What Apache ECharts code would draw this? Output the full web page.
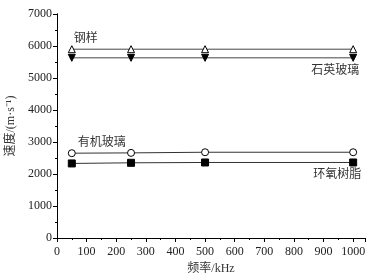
<!DOCTYPE html>
<html>
<head>
<meta charset="utf-8">
<script src="https://cdn.jsdelivr.net/npm/echarts@6/dist/echarts.min.js"></script>
<style>
  html, body { margin: 0; padding: 0; background: #fff; }
  #main { width: 377px; height: 278px; }
</style>
</head>
<body>
<div id="main"></div>
<script>
// frequencies (kHz)
const freq = [50, 250, 500, 1000];
// wave speeds (m/s)
const steel = [5900, 5900, 5900, 5900];
const quartz = [5630, 5630, 5630, 5630];
const pmma = [2650, 2660, 2680, 2680];
const epoxy = [2330, 2350, 2360, 2360];
const names = ["钢样", "石英玻璃", "有机玻璃", "环氧树脂"];

const font = "Liberation Serif";
const cjk = "Noto Sans CJK SC";
const mixed = "'Liberation Serif', 'Noto Sans CJK SC'";

function pts(vals, name, labelIdx, label) {
  return vals.map((v, i) => {
    const d = { value: [freq[i], v] };
    if (i === labelIdx) {
      d.label = Object.assign({
        show: true, formatter: name, fontFamily: cjk, fontSize: 12, color: "#333"
      }, label);
    }
    return d;
  });
}

let myChart = echarts.init(document.getElementById("main"));
const axisLine = { show: true, lineStyle: { color: "#000", width: 1 } };
const tickLbl = { fontFamily: font, fontSize: 12, color: "#222", formatter: v => String(v) };
let option = {
  animation: false,
  backgroundColor: "#fff",
  grid: { left: 57, right: 12, top: 14, bottom: 40, containLabel: false, outerBoundsMode: "none" },
  xAxis: [
    {
      type: "value", min: 0, max: 1040, interval: 100,
      name: "频率/kHz", nameLocation: "middle", nameGap: 25,
      nameTextStyle: { fontFamily: mixed, fontSize: 12, color: "#333" },
      axisLine: axisLine,
      axisTick: { inside: false, length: 4, lineStyle: { color: "#000" } },
      minorTick: { show: true, splitNumber: 2, length: 2, lineStyle: { color: "#000" } },
      axisLabel: Object.assign({ margin: 8, showMaxLabel: false }, tickLbl),
      splitLine: { show: false }
    },
    {
      type: "value", position: "top", min: 0, max: 1040, interval: 100,
      axisLine: axisLine,
      axisTick: { inside: true, length: 4, lineStyle: { color: "#000" } },
      minorTick: { show: true, splitNumber: 2, length: 2, lineStyle: { color: "#000" } },
      axisLabel: { show: false },
      splitLine: { show: false }
    }
  ],
  yAxis: [
    {
      type: "value", min: 0, max: 7000, interval: 1000,
      name: "速度/(m·s⁻¹)", nameLocation: "middle", nameGap: 33,
      nameTextStyle: { fontFamily: mixed, fontSize: 12, color: "#333" },
      axisLine: axisLine,
      axisTick: { inside: false, length: 4, lineStyle: { color: "#000" } },
      minorTick: { show: true, splitNumber: 2, length: 2, lineStyle: { color: "#000" } },
      axisLabel: Object.assign({ margin: 5 }, tickLbl),
      splitLine: { show: false }
    },
    {
      type: "value", position: "right", min: 0, max: 7000, interval: 1000,
      axisLine: axisLine,
      axisTick: { inside: true, length: 4, lineStyle: { color: "#000" } },
      minorTick: { show: true, splitNumber: 2, length: 2, lineStyle: { color: "#000" } },
      axisLabel: { show: false },
      splitLine: { show: false }
    }
  ],
  series: [
    {
      name: names[0], type: "line", symbol: "triangle", symbolSize: 7,
      lineStyle: { color: "#444", width: 1 },
      itemStyle: { color: "#fff", borderColor: "#000", borderWidth: 1 },
      data: pts(steel, names[0], 0, { position: "top", offset: [14, 3] })
    },
    {
      name: names[1], type: "line", symbol: "triangle", symbolRotate: 180, symbolSize: 7,
      lineStyle: { color: "#444", width: 1 },
      itemStyle: { color: "#000", borderColor: "#000" },
      data: pts(quartz, names[1], 3, { position: "bottom", offset: [-18, -3] })
    },
    {
      name: names[2], type: "line", symbol: "circle", symbolSize: 7,
      lineStyle: { color: "#333", width: 1 },
      itemStyle: { color: "#fff", borderColor: "#000", borderWidth: 1 },
      data: pts(pmma, names[2], 0, { position: "top", offset: [30, 3] })
    },
    {
      name: names[3], type: "line", symbol: "rect", symbolSize: 7,
      lineStyle: { color: "#333", width: 1 },
      itemStyle: { color: "#000", borderColor: "#000" },
      data: pts(epoxy, names[3], 3, { position: "bottom", offset: [-16, -4] })
    }
  ]
};
myChart.setOption(option);
</script>
</body>
</html>
